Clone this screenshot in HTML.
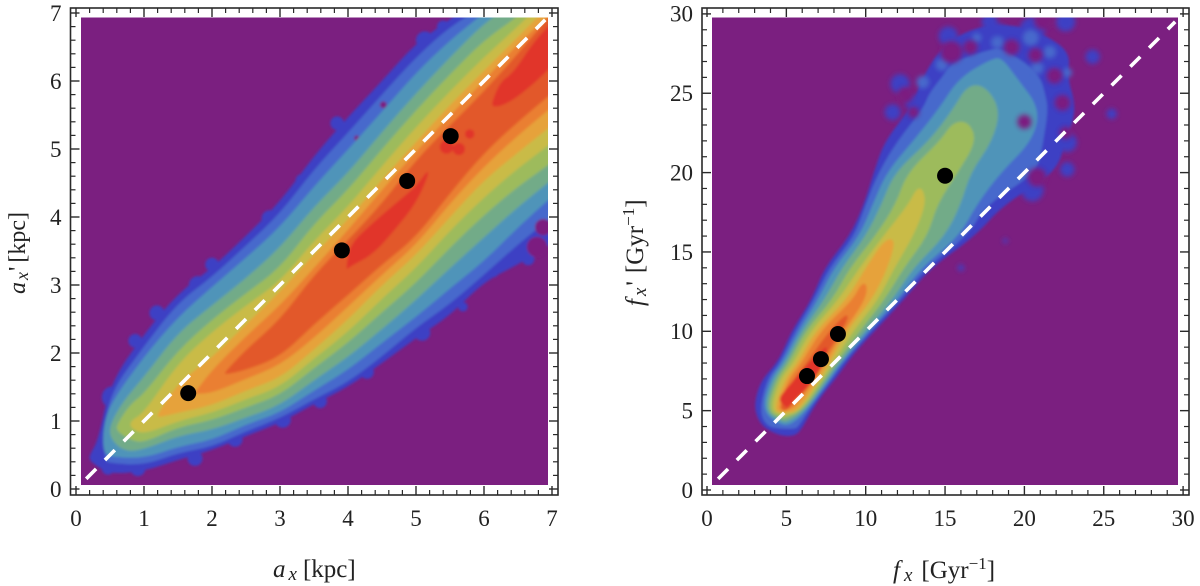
<!DOCTYPE html>
<html lang="en">
<head>
<meta charset="utf-8">
<title>Density comparison of bar parameters</title>
<style>
html,body{margin:0;padding:0;background:#fff;}
svg{display:block;font-family:"Liberation Serif",serif;}
</style>
</head>
<body>
<svg id="chart" xmlns="http://www.w3.org/2000/svg" width="1200" height="586" viewBox="0 0 1200 586">
  <defs>
    <filter id="soft" x="-5%" y="-5%" width="110%" height="110%"><feGaussianBlur stdDeviation="1.2"/></filter>
    <filter id="softer" x="-30%" y="-30%" width="160%" height="160%"><feGaussianBlur stdDeviation="2.2"/></filter>
    <clipPath id="clip-left"><rect x="81" y="17.5" width="467" height="467.5"/></clipPath>
    <clipPath id="clip-right"><rect x="712" y="17.5" width="466" height="467.5"/></clipPath>
  </defs>
</svg>
<script>
// ---- shared tick data ----
const leftTicks = [0, 1, 2, 3, 4, 5, 6, 7];
const rightTicks = [0, 5, 10, 15, 20, 25, 30];
const minorPerMajor = 5;

// ---- contour level colours (outer to inner) ----
const levelColors = ['#3d3fc4', '#4669cc', '#4f94b9', '#72ab88', '#9dbb5c', '#c9bb46', '#e6a23a', '#ea7f30', '#e2592a', '#e1352a'];

// ---- left panel: scatter markers (kpc) ----
const leftPointsX = [1.65, 3.91, 4.87, 5.51];
const leftPointsY = [1.41, 3.51, 4.53, 5.19];
const leftLineEnds = [0.15, 6.9];

// ---- left panel: density contours: sampled along a_x, lower and upper a_x' ----
const leftX = [
  [0.2, 0.33, 0.5, 1, 1.5, 2, 2.5, 3, 3.5, 4, 4.5, 5, 5.5, 6, 6.5, 7, 7.5],
  [0.42, 0.5, 1, 1.5, 2, 2.5, 3, 3.5, 4, 4.5, 5, 5.5, 6, 6.5, 7, 7.5],
  [0.4, 0.5, 1, 1.5, 2, 2.5, 3, 3.5, 4, 4.5, 5, 5.5, 6, 6.5, 7, 7.5],
  [0.5, 0.7, 1, 1.5, 2, 2.5, 3, 3.5, 4, 4.5, 5, 5.5, 6, 6.5, 7, 7.5],
  [0.6, 0.8, 1, 1.5, 2, 2.5, 3, 3.5, 4, 4.5, 5, 5.5, 6, 6.5, 7, 7.5],
  [0.8, 1, 1.5, 2, 2.5, 3, 3.5, 4, 4.5, 5, 5.5, 6, 6.5, 7, 7.5],
  [1.2, 1.5, 2, 2.5, 3, 3.5, 4, 4.5, 5, 5.5, 6, 6.5, 7, 7.5],
  [1.75, 2, 2.5, 3, 3.5, 4, 4.5, 5, 5.5, 6, 6.5, 7, 7.5],
  [2.19, 2.5, 3, 3.5, 4, 4.5, 5, 5.5, 6, 6.5, 7, 7.5]
];
const leftLower = [
  [0.42, 0.32, 0.22, 0.26, 0.43, 0.57, 0.78, 0.97, 1.25, 1.5, 1.85, 2.22, 2.55, 3.05, 3.3, 3.6, 4.0],
  [0.42, 0.38, 0.35, 0.53, 0.62, 0.85, 1.04, 1.32, 1.57, 1.95, 2.37, 2.72, 3.15, 3.6, 4.0, 4.4],
  [0.55, 0.47, 0.45, 0.62, 0.72, 0.95, 1.12, 1.45, 1.75, 2.15, 2.53, 2.95, 3.35, 3.85, 4.3, 4.7],
  [0.75, 0.55, 0.58, 0.78, 0.87, 1.05, 1.23, 1.6, 1.94, 2.35, 2.78, 3.25, 3.7, 4.15, 4.55, 4.95],
  [0.85, 0.72, 0.68, 0.91, 1.01, 1.2, 1.38, 1.78, 2.15, 2.6, 3.03, 3.55, 4.03, 4.45, 4.8, 5.2],
  [0.9, 0.8, 1.0, 1.12, 1.32, 1.5, 1.92, 2.31, 2.8, 3.25, 3.8, 4.29, 4.72, 5.09, 5.5],
  [1.05, 1.12, 1.23, 1.45, 1.63, 2.05, 2.49, 3.0, 3.44, 4.0, 4.54, 4.95, 5.35, 5.75],
  [1.4, 1.41, 1.62, 1.82, 2.22, 2.68, 3.15, 3.59, 4.2, 4.74, 5.2, 5.62, 6.0],
  [1.68, 1.75, 1.94, 2.42, 2.85, 3.3, 3.7, 4.35, 4.94, 5.4, 5.82, 6.2]
];
const leftUpper = [
  [0.5, 0.72, 1.55, 2.28, 2.88, 3.25, 3.72, 4.22, 4.9, 5.47, 6.0, 6.56, 6.9, 7.3, 7.8, 8.3, 8.8],
  [0.8, 1.41, 2.1, 2.74, 3.12, 3.58, 4.05, 4.7, 5.24, 5.8, 6.35, 6.8, 7.1, 7.6, 8.1, 8.6],
  [0.9, 1.25, 1.95, 2.53, 2.97, 3.4, 3.85, 4.45, 4.99, 5.55, 6.12, 6.6, 7.0, 7.4, 7.9, 8.4],
  [0.95, 1.3, 1.65, 2.3, 2.7, 3.1, 3.55, 4.15, 4.65, 5.25, 5.82, 6.35, 6.85, 7.2, 7.6, 8.1],
  [0.95, 1.25, 1.4, 2.04, 2.49, 2.88, 3.25, 3.9, 4.4, 5.0, 5.57, 6.1, 6.6, 6.95, 7.4, 7.9],
  [1.0, 1.12, 1.85, 2.31, 2.7, 3.05, 3.65, 4.15, 4.75, 5.32, 5.85, 6.35, 6.8, 7.3, 7.8],
  [1.1, 1.56, 1.93, 2.42, 2.9, 3.45, 3.96, 4.55, 5.1, 5.65, 6.15, 6.65, 7.15, 7.6],
  [1.42, 1.75, 2.25, 2.7, 3.25, 3.81, 4.4, 4.96, 5.5, 6.0, 6.55, 7.0, 7.5],
  [1.72, 2.05, 2.49, 3.15, 3.66, 4.2, 4.84, 5.35, 5.85, 6.4, 7.0, 7.5]
];
const leftCoreX = [[3.98, 4.03, 4.37, 4.7, 5.0, 5.18], [6.12, 6.24, 6.43, 6.72, 6.94, 7.2]];
const leftCoreLower = [[3.22, 3.27, 3.45, 3.82, 4.2, 4.6], [5.62, 5.63, 5.72, 5.95, 6.16, 6.4]];
const leftCoreUpper = [[3.3, 3.6, 3.92, 4.2, 4.45, 4.7], [5.7, 5.99, 6.12, 6.56, 6.8, 7.1]];
// small red spots: x, y, radius
const leftSpots = [[5.79, 5.22, 0.07], [5.63, 5.0, 0.09], [5.45, 5.03, 0.1]];
// outer blue islands along the noisy edge: x, y, radius
const leftIslands = [[0.54, 1.35, 0.16], [0.4, 0.62, 0.11], [0.47, 0.3, 0.09], [0.91, 0.3, 0.11], [1.75, 0.45, 0.11], [3.04, 1.02, 0.12], [2.34, 0.73, 0.11], [1.19, 2.59, 0.11], [0.87, 2.18, 0.1], [1.79, 3.0, 0.13], [3.59, 1.29, 0.1], [4.28, 1.72, 0.1], [5.09, 2.3, 0.12], [5.69, 2.68, 0.07], [6.12, 3.22, 0.11], [6.65, 3.38, 0.09], [3.84, 5.38, 0.1], [5.13, 6.6, 0.13], [5.4, 6.8, 0.09], [4.42, 5.72, 0.12], [3.32, 4.54, 0.09], [4.03, 5.2, 0.15], [2.85, 3.98, 0.12], [2.0, 3.3, 0.1]];
// purple gaps: x, y, radius
const leftHoles = [[4.52, 5.65, 0.05], [4.13, 5.16, 0.04], [6.87, 3.85, 0.12], [6.78, 3.56, 0.15]];

// ---- right panel: scatter markers (1/Gyr) ----
const rightPointsX = [6.3, 7.18, 8.25, 15];
const rightPointsY = [7.18, 8.25, 9.83, 19.8];
const rightLineEnds = [0.7, 29.5];

// ---- right panel: density contours: sampled along f_x', left and right f_x ----
const rightY = [
  [3.4, 4, 5, 6, 7, 8, 9, 10, 12, 14, 16, 18, 20, 22, 24, 26, 27.5, 28.6, 29.3],
  [3.85, 4, 5, 7, 8, 10, 12, 14, 16, 18, 20, 22, 24, 25, 26, 27, 27.8],
  [4.1, 5, 7, 8, 10, 12, 14, 16, 18, 20, 22, 24, 26, 27.2],
  [4.3, 5, 7, 8, 10, 12, 14, 16, 18, 20, 22, 24, 25.5],
  [4.5, 5, 7, 8, 10, 12, 14, 16, 18, 20, 22, 23.2],
  [4.7, 5, 7, 8, 10, 12, 14, 16, 18, 19],
  [4.85, 5, 7, 8, 10, 12, 14, 15.8],
  [5, 5.2, 7, 8, 10, 12, 13],
  [5, 5.3, 7, 8, 9.5, 11],
  [5.2, 5.7, 6.5, 8, 9]
];
const rightLeft = [
  [4.6, 3.45, 3.0, 3.1, 3.5, 4.4, 4.9, 5.34, 6.6, 7.4, 9, 9.9, 10.5, 11.2, 12.8, 13.6, 14.5, 15.7, 17.5],
  [4.7, 3.77, 3.3, 3.78, 4.6, 5.55, 6.75, 7.7, 9.3, 10, 10.8, 12, 13.6, 14, 14.8, 15.5, 18],
  [4.6, 3.45, 3.98, 4.77, 5.76, 7, 8, 9.6, 10.45, 11.3, 13, 14.6, 15.9, 18],
  [4.7, 3.6, 4.19, 4.96, 5.97, 7.4, 8.5, 10, 11, 11.8, 14, 15.5, 16.4],
  [4.7, 3.77, 4.4, 5.17, 6.18, 7.9, 9, 10.6, 11.9, 12.6, 14.7, 15.5],
  [4.8, 3.98, 4.6, 5.45, 6.49, 8.3, 9.6, 11.1, 12.7, 13.2],
  [4.85, 4.19, 4.92, 5.72, 6.81, 8.8, 10, 11.2],
  [4.7, 4.5, 5.13, 5.97, 7.12, 9.2, 9.7],
  [4.8, 4.6, 5.45, 6.28, 7.3, 8.6],
  [5, 4.45, 5.1, 6.4, 7.4]
];
const rightRight = [
  [5.6, 6.05, 6.6, 7.25, 8.1, 8.8, 9.6, 10.55, 12.4, 14.1, 16.9, 18.7, 22, 22.6, 23.3, 22.7, 22.9, 21.5, 19.5],
  [5.5, 5.76, 6.39, 7.88, 8.57, 10.3, 12.2, 13.8, 16.4, 17.6, 20.8, 21.2, 21.5, 21.3, 21, 20, 18.5],
  [5.3, 6.28, 7.75, 8.44, 10.15, 12, 13.5, 15.9, 17, 18.5, 20.5, 21, 19.5, 18.6],
  [5.1, 6.18, 7.6, 8.32, 9.94, 11.7, 13, 15, 16, 16.6, 18, 18.5, 17.5],
  [4.95, 6.03, 7.44, 8.13, 9.62, 11.2, 12.4, 13.9, 14.5, 15.8, 17, 16.5],
  [4.95, 5.9, 7.25, 7.92, 9.2, 10.8, 11.8, 13, 13.8, 13.6],
  [4.95, 5.76, 7.08, 7.7, 8.78, 10.4, 11.4, 11.9],
  [4.9, 5.55, 6.87, 7.43, 8.6, 10, 10.1],
  [5, 5.3, 6.56, 7.12, 8.2, 9],
  [5.1, 5.55, 6.4, 7.4, 7.6]
];
const rightIslands = [[12.16, 25.6, 0.6], [11.7, 23.8, 0.5], [13, 24.4, 0.5], [17.8, 29.5, 0.5], [18.3, 28.7, 0.7], [20.5, 29, 0.8], [22.6, 29.5, 0.6], [24.3, 27.3, 0.45], [25.5, 23.7, 0.32], [22.7, 21.9, 0.6], [22.7, 20.2, 0.45], [20.5, 18.9, 0.7], [16, 14, 0.2], [18.8, 15.7, 0.15], [15.2, 28.6, 0.6]];
const rightPatches = [[14.8, 26.8, 0.4], [13.6, 25.7, 0.4], [17, 28.5, 0.3], [18.3, 28.2, 0.4], [20.4, 28.5, 0.5], [21.6, 27.6, 0.4], [22.7, 26.3, 0.3], [20.8, 26.6, 0.4]];
const rightHoles = [[15.4, 27.6, 0.7], [16.6, 27.9, 0.45], [19.2, 27.9, 0.5], [20.7, 27.4, 0.45], [21.9, 26.1, 0.5], [20, 23.2, 0.45], [22.4, 24.4, 0.5], [22.6, 22.5, 0.4], [20.8, 19.7, 0.6], [12.5, 24.9, 0.5], [13, 23.8, 0.35], [21.2, 29.6, 0.6]];

const PURPLE = '#7b1f80';
const NS = 'http://www.w3.org/2000/svg';
const svg = document.getElementById('chart');

function make(parent, tag, attrs) {
  const el = document.createElementNS(NS, tag);
  for (const k in attrs) el.setAttribute(k, attrs[k]);
  parent.appendChild(el);
  return el;
}

function drawTicks(g, ticks, sx, sy, frame) {
  const INK = '#2a2a2a';
  const step = (ticks[1] - ticks[0]) / minorPerMajor;
  const n = Math.round((ticks[ticks.length - 1] - ticks[0]) / step);
  for (let i = 0; i <= n; i++) {
    const v = ticks[0] + i * step;
    const len = i % minorPerMajor === 0 ? 9 : 5;
    const w = i % minorPerMajor === 0 ? 1.4 : 1.2;
    const x = sx(v), y = sy(v);
    make(g, 'line', { x1: x, x2: x, y1: frame.b, y2: frame.b - len, stroke: INK, 'stroke-width': w });
    make(g, 'line', { x1: x, x2: x, y1: frame.t, y2: frame.t + len, stroke: INK, 'stroke-width': w });
    make(g, 'line', { y1: y, y2: y, x1: frame.l, x2: frame.l + len, stroke: INK, 'stroke-width': w });
    make(g, 'line', { y1: y, y2: y, x1: frame.r, x2: frame.r - len, stroke: INK, 'stroke-width': w });
  }
}

function drawLabels(g, ticks, sx, sy, frame) {
  ticks.forEach(function (t) {
    const xl = make(g, 'text', { x: sx(t), y: 526, 'text-anchor': 'middle', 'font-size': 23, fill: '#222' });
    
    
    xl.textContent = t;
    const yl = make(g, 'text', { x: frame.l - 9, y: sy(t) + 7.8, 'text-anchor': 'end', 'font-size': 23, fill: '#222' });
    
    
    yl.textContent = t;
  });
}

function drawCircles(g, list, sx, sy, fill, name) {
  const k = Math.abs(sx(1) - sx(0));
  list.forEach(function (c) {
    const el = make(g, 'circle', { cx: sx(c[0]), cy: sy(c[1]), r: c[2] * k, fill: fill });
    
    
  });
}

function contourPath(along, a, b, sx, sy, byX) {
  const pts = [];
  for (let i = 0; i < along.length; i++) {
    pts.push(byX ? [sx(along[i]), sy(a[i])] : [sx(a[i]), sy(along[i])]);
  }
  for (let i = along.length - 1; i >= 0; i--) {
    pts.push(byX ? [sx(along[i]), sy(b[i])] : [sx(b[i]), sy(along[i])]);
  }
  // smooth closed outline through segment midpoints
  const n = pts.length;
  const mid = function (p, q) { return ((p[0] + q[0]) / 2).toFixed(1) + ' ' + ((p[1] + q[1]) / 2).toFixed(1); };
  let d = 'M' + mid(pts[n - 1], pts[0]);
  for (let i = 0; i < n; i++) {
    d += 'Q' + pts[i][0].toFixed(1) + ' ' + pts[i][1].toFixed(1) + ' ' + mid(pts[i], pts[(i + 1) % n]);
  }
  return d + 'Z';
}

function drawFrameAndMarks(g, pointsX, pointsY, lineEnds, sx, sy, frame, ticks) {
  const d = make(g, 'line', { x1: sx(lineEnds[0]), y1: sy(lineEnds[0]), x2: sx(lineEnds[1]), y2: sy(lineEnds[1]), stroke: '#fff', 'stroke-width': 3.6, 'stroke-dasharray': '14 12.5' });
  
  
  pointsX.forEach(function (x, i) {
    const c = make(g, 'circle', { cx: sx(x), cy: sy(pointsY[i]), r: 8, fill: '#000' });
    
    
  });
  drawTicks(g, ticks, sx, sy, frame);
  const f = make(g, 'rect', { x: frame.l, y: frame.t, width: frame.r - frame.l, height: frame.b - frame.t, fill: 'none', stroke: '#2a2a2a', 'stroke-width': 1.6 });
  
  
}

// ---------- left panel ----------
(function () {
  const sx = function (v) { return 76 + v * 68; };
  const sy = function (v) { return 489 - v * 68; };
  const frame = { l: 70.5, r: 558, t: 8, b: 495 };
  const g = make(svg, 'g', {});
  
  
  const bg = make(g, 'rect', { x: 81, y: 17.5, width: 467, height: 467.5, fill: PURPLE });
  
  
  const clip = make(g, 'g', { 'clip-path': 'url(#clip-left)' });
  const d = make(clip, 'g', { filter: 'url(#soft)' });
  
  
  leftX.forEach(function (xs, i) {
    const p = make(d, 'path', { d: contourPath(xs, leftLower[i], leftUpper[i], sx, sy, true), fill: levelColors[i] });
    
    
    if (i === 0) drawCircles(d, leftIslands, sx, sy, levelColors[0], 'left-density-island');
    if (i === 1) drawCircles(d, leftHoles, sx, sy, PURPLE, 'left-density-gap');
  });
  leftCoreX.forEach(function (xs, i) {
    const p = make(d, 'path', { d: contourPath(xs, leftCoreLower[i], leftCoreUpper[i], sx, sy, true), fill: levelColors[9] });
    
    
  });
  drawCircles(d, leftSpots, sx, sy, levelColors[9], 'left-density-spot');
  drawFrameAndMarks(g, leftPointsX, leftPointsY, leftLineEnds, sx, sy, frame, leftTicks);
  drawLabels(g, leftTicks, sx, sy, frame);
})();

// ---------- right panel ----------
(function () {
  const sx = function (v) { return 707 + v * 15.87; };
  const sy = function (v) { return 490 - v * 15.87; };
  const frame = { l: 702, r: 1189, t: 8, b: 495 };
  const g = make(svg, 'g', {});
  
  
  const bg = make(g, 'rect', { x: 712, y: 17.5, width: 466, height: 467.5, fill: PURPLE });
  
  
  const clip = make(g, 'g', { 'clip-path': 'url(#clip-right)' });
  const d = make(clip, 'g', { filter: 'url(#soft)' });
  
  
  rightY.forEach(function (ys, i) {
    const p = make(d, 'path', { d: contourPath(ys, rightLeft[i], rightRight[i], sx, sy, false), fill: levelColors[i] });
    
    
    if (i === 0) {
      const noise = make(d, 'g', { filter: 'url(#softer)' });
      drawCircles(noise, rightIslands, sx, sy, levelColors[0], 'right-density-island');
    }
    if (i === 1) {
      const noise = make(d, 'g', { filter: 'url(#softer)' });
      drawCircles(noise, rightPatches, sx, sy, levelColors[1], 'right-density-patch');
    }
    if (i === 2) {
      const noise = make(d, 'g', { filter: 'url(#softer)' });
      drawCircles(noise, rightHoles, sx, sy, PURPLE, 'right-density-gap');
    }
  });
  drawFrameAndMarks(g, rightPointsX, rightPointsY, rightLineEnds, sx, sy, frame, rightTicks);
  drawLabels(g, rightTicks, sx, sy, frame);
})();
</script>
<svg xmlns="http://www.w3.org/2000/svg" width="1200" height="586" viewBox="0 0 1200 586" style="position:absolute;left:0;top:0;pointer-events:none;font-family:'Liberation Serif',serif;">
  <text x="273" y="577" font-size="25" fill="#222"><tspan font-style="italic">a</tspan><tspan font-style="italic" font-size="19" dx="3" dy="3">x</tspan><tspan dx="6" dy="-3">[kpc]</tspan></text>
  <text transform="translate(25,294) rotate(-90)" font-size="24" fill="#222"><tspan font-style="italic">a</tspan><tspan font-style="italic" font-size="18" dx="2" dy="3">x</tspan><tspan dx="1" dy="-3">'</tspan><tspan dx="4">[kpc]</tspan></text>
  <text x="893" y="578" font-size="25" fill="#222"><tspan font-style="italic">f</tspan><tspan font-style="italic" font-size="19" dx="4" dy="3">x</tspan><tspan dx="9" dy="-3">[Gyr</tspan><tspan font-size="17" dy="-9">−1</tspan><tspan dy="9">]</tspan></text>
  <text transform="translate(643,306) rotate(-90)" font-size="25" fill="#222"><tspan font-style="italic">f</tspan><tspan font-style="italic" font-size="19" dx="3" dy="3">x</tspan><tspan dx="2" dy="-3">'</tspan><tspan dx="8">[Gyr</tspan><tspan font-size="17" dy="-9">−1</tspan><tspan dy="9">]</tspan></text>
</svg>
</body>
</html>
